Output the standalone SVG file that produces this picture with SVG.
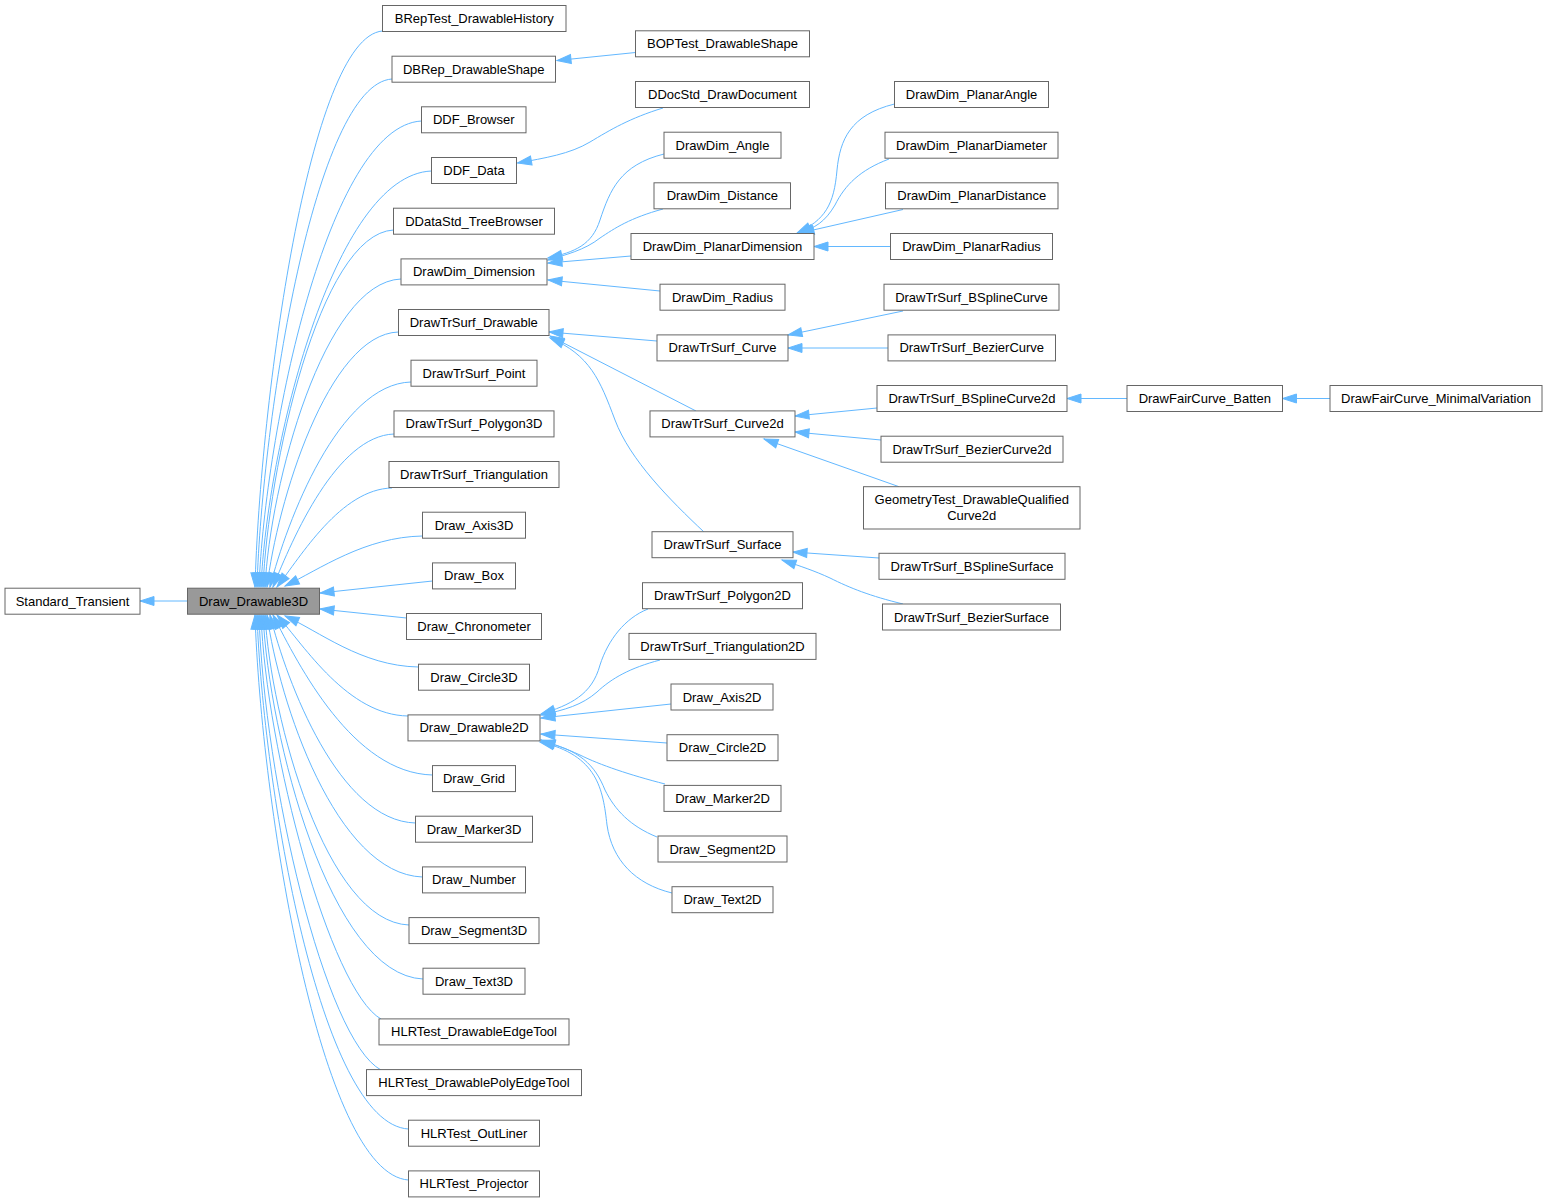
<svg xmlns="http://www.w3.org/2000/svg" width="1547" height="1203" viewBox="0 0 1547 1203">
<style>
.n rect{fill:#ffffff;stroke:#666666;stroke-width:1}
.n.hl rect{fill:#999999}
.n text{font-family:"Liberation Sans",Arial,sans-serif;font-size:13px;text-anchor:middle;fill:#000000}
#edges path{fill:none;stroke:#63b8ff;stroke-width:1;marker-end:url(#ah)}
</style>
<defs>
<marker id="ah" markerUnits="userSpaceOnUse" viewBox="0 0 14 10" refX="14" refY="5" markerWidth="14" markerHeight="10" orient="auto" overflow="visible">
<path d="M0,0.5 L14,5 L0,9.5 z" fill="#63b8ff" stroke="#63b8ff" stroke-width="1"/>
</marker>
</defs>
<rect x="0" y="0" width="1547" height="1203" fill="#ffffff"/>
<g id="edges">
<path d="M187.5,601 L140,601"/>
<path d="M382.5,31 C309,37 260,403 255,587"/>
<path d="M392,79 C315,84 262,419 257,587"/>
<path d="M421.5,121 C328,126 265,433 259,587"/>
<path d="M431.5,171 C333,175 267,449 261,587"/>
<path d="M393.5,230 C319,234 268,469 263,587"/>
<path d="M401,279 C324,282 270,485 265,587"/>
<path d="M398.5,332 C328,334 277,503 267,587"/>
<path d="M411,382 C339,384 287,520 270,587"/>
<path d="M394,434 C337,436 293,537 273,587"/>
<path d="M392,488 C341,489 301,556 277,587"/>
<path d="M422.5,536 C365,537 320,569 285,586"/>
<path d="M432.5,581 L320,593"/>
<path d="M406.5,618 L320,609"/>
<path d="M418.5,667 C361,666 319,631 285,616"/>
<path d="M408,716 C348,715 305,647 277,615"/>
<path d="M432.5,775 C353,773 299,666 273,615"/>
<path d="M415.5,823 C339,821 287,683 270,615"/>
<path d="M422.5,877 C336,874 279,702 267,615"/>
<path d="M409,925 C326,922 271,719 265,615"/>
<path d="M423,979 C330,975 269,737 263,615"/>
<path d="M381,1019 C330,990 266,750 261,615"/>
<path d="M381,1070 C325,1040 264,780 259,615"/>
<path d="M408.5,1129 C320,1124 263,786 257,615"/>
<path d="M408.5,1180 C320,1174 261,803 255,615"/>
<path d="M635.5,52.5 L557,60.5"/>
<path d="M663,108 C630,118 610,130 590,142 C570,154 545,158 517.5,163"/>
<path d="M664,154 C620,165 610,190 600,220 C592,245 575,252 548,258"/>
<path d="M663,209 C630,218 615,228 600,238 C585,250 565,255 548,260"/>
<path d="M631,256 L548,263"/>
<path d="M660,291 L548,280"/>
<path d="M657,341 L549,332"/>
<path d="M696,411 L550,336"/>
<path d="M704,532 C670,500 630,460 615,420 C600,380 590,355 550,338"/>
<path d="M894.5,104 C850,115 840,140 837,170 C834,205 825,220 797,233"/>
<path d="M889,159 C860,170 845,185 835,205 C825,222 815,228 799,233"/>
<path d="M903,209.5 L800,233"/>
<path d="M890.5,246.5 L814,246.5"/>
<path d="M903,311 L788,335"/>
<path d="M888,348 L788,348"/>
<path d="M877,408 L795,416"/>
<path d="M881,440 L795,432"/>
<path d="M899,486.7 L764,439"/>
<path d="M879,558 L793,552"/>
<path d="M903,604 C870,596 850,588 830,578 C815,571 800,566 782,560"/>
<path d="M1127,398.5 L1067,398.5"/>
<path d="M1330,398.5 L1282.5,398.5"/>
<path d="M648,609 C625,618 608,640 600,665 C592,695 570,705 541,714"/>
<path d="M660,660 C630,668 612,678 597,692 C582,705 565,710 541,715"/>
<path d="M671,704 L541,718"/>
<path d="M667,743 L541,734"/>
<path d="M665,784 C630,775 600,765 580,755 C565,748 555,745 541,740"/>
<path d="M657,837 C630,826 615,810 605,790 C595,765 580,750 541,741"/>
<path d="M672,893 C635,884 612,860 607,825 C603,790 598,755 540,742"/>
</g>
<g id="n_Standard_Transient" class="n"><rect x="5" y="588.2" width="135" height="26"/><text x="72.5" y="605.7">Standard_Transient</text></g>
<g id="n_Draw_Drawable3D" class="n hl"><rect x="187.5" y="588.2" width="132" height="26"/><text x="253.5" y="605.7">Draw_Drawable3D</text></g>
<g id="n_BRepTest_DrawableHistory" class="n"><rect x="382.5" y="5.5" width="183.5" height="26"/><text x="474.25" y="23">BRepTest_DrawableHistory</text></g>
<g id="n_DBRep_DrawableShape" class="n"><rect x="392" y="56.2" width="163.5" height="26"/><text x="473.75" y="73.7">DBRep_DrawableShape</text></g>
<g id="n_DDF_Browser" class="n"><rect x="421.5" y="106.8" width="104.5" height="26"/><text x="473.75" y="124.3">DDF_Browser</text></g>
<g id="n_DDF_Data" class="n"><rect x="431.5" y="157.5" width="85" height="26"/><text x="474" y="175">DDF_Data</text></g>
<g id="n_DDataStd_TreeBrowser" class="n"><rect x="393.5" y="208.2" width="161" height="26"/><text x="474" y="225.7">DDataStd_TreeBrowser</text></g>
<g id="n_DrawDim_Dimension" class="n"><rect x="401" y="258.9" width="146" height="26"/><text x="474" y="276.4">DrawDim_Dimension</text></g>
<g id="n_DrawTrSurf_Drawable" class="n"><rect x="398.5" y="309.5" width="150.5" height="26"/><text x="473.75" y="327">DrawTrSurf_Drawable</text></g>
<g id="n_DrawTrSurf_Point" class="n"><rect x="411" y="360.2" width="126" height="26"/><text x="474" y="377.7">DrawTrSurf_Point</text></g>
<g id="n_DrawTrSurf_Polygon3D" class="n"><rect x="394" y="410.9" width="160" height="26"/><text x="474" y="428.4">DrawTrSurf_Polygon3D</text></g>
<g id="n_DrawTrSurf_Triangulation" class="n"><rect x="389" y="461.5" width="170" height="26"/><text x="474" y="479">DrawTrSurf_Triangulation</text></g>
<g id="n_Draw_Axis3D" class="n"><rect x="422.5" y="512.2" width="103" height="26"/><text x="474" y="529.7">Draw_Axis3D</text></g>
<g id="n_Draw_Box" class="n"><rect x="432.5" y="562.9" width="83" height="26"/><text x="474" y="580.4">Draw_Box</text></g>
<g id="n_Draw_Chronometer" class="n"><rect x="406.5" y="613.5" width="135" height="26"/><text x="474" y="631">Draw_Chronometer</text></g>
<g id="n_Draw_Circle3D" class="n"><rect x="418.5" y="664.2" width="111" height="26"/><text x="474" y="681.7">Draw_Circle3D</text></g>
<g id="n_Draw_Drawable2D" class="n"><rect x="408" y="714.9" width="132" height="26"/><text x="474" y="732.4">Draw_Drawable2D</text></g>
<g id="n_Draw_Grid" class="n"><rect x="432.5" y="765.6" width="83" height="26"/><text x="474" y="783.1">Draw_Grid</text></g>
<g id="n_Draw_Marker3D" class="n"><rect x="415.5" y="816.2" width="117" height="26"/><text x="474" y="833.7">Draw_Marker3D</text></g>
<g id="n_Draw_Number" class="n"><rect x="422.5" y="866.9" width="103" height="26"/><text x="474" y="884.4">Draw_Number</text></g>
<g id="n_Draw_Segment3D" class="n"><rect x="409" y="917.6" width="130" height="26"/><text x="474" y="935.1">Draw_Segment3D</text></g>
<g id="n_Draw_Text3D" class="n"><rect x="423" y="968.2" width="102" height="26"/><text x="474" y="985.7">Draw_Text3D</text></g>
<g id="n_HLRTest_DrawableEdgeTool" class="n"><rect x="379" y="1018.9" width="190" height="26"/><text x="474" y="1036.4">HLRTest_DrawableEdgeTool</text></g>
<g id="n_HLRTest_DrawablePolyEdgeTool" class="n"><rect x="366.5" y="1069.6" width="215" height="26"/><text x="474" y="1087.1">HLRTest_DrawablePolyEdgeTool</text></g>
<g id="n_HLRTest_OutLiner" class="n"><rect x="408.5" y="1120.2" width="131" height="26"/><text x="474" y="1137.7">HLRTest_OutLiner</text></g>
<g id="n_HLRTest_Projector" class="n"><rect x="408.5" y="1170.9" width="131" height="26"/><text x="474" y="1188.4">HLRTest_Projector</text></g>
<g id="n_BOPTest_DrawableShape" class="n"><rect x="635.5" y="30.8" width="174" height="26"/><text x="722.5" y="48.3">BOPTest_DrawableShape</text></g>
<g id="n_DDocStd_DrawDocument" class="n"><rect x="635.5" y="81.5" width="174" height="26"/><text x="722.5" y="99">DDocStd_DrawDocument</text></g>
<g id="n_DrawDim_Angle" class="n"><rect x="664" y="132.2" width="117" height="26"/><text x="722.5" y="149.7">DrawDim_Angle</text></g>
<g id="n_DrawDim_Distance" class="n"><rect x="654" y="182.8" width="136.5" height="26"/><text x="722.25" y="200.3">DrawDim_Distance</text></g>
<g id="n_DrawDim_PlanarDimension" class="n"><rect x="631" y="233.5" width="183" height="26"/><text x="722.5" y="251">DrawDim_PlanarDimension</text></g>
<g id="n_DrawDim_Radius" class="n"><rect x="660" y="284.2" width="125" height="26"/><text x="722.5" y="301.7">DrawDim_Radius</text></g>
<g id="n_DrawTrSurf_Curve" class="n"><rect x="657" y="334.9" width="131" height="26"/><text x="722.5" y="352.4">DrawTrSurf_Curve</text></g>
<g id="n_DrawTrSurf_Curve2d" class="n"><rect x="650" y="410.9" width="145" height="26"/><text x="722.5" y="428.4">DrawTrSurf_Curve2d</text></g>
<g id="n_DrawTrSurf_Surface" class="n"><rect x="652" y="531.7" width="141" height="26"/><text x="722.5" y="549.2">DrawTrSurf_Surface</text></g>
<g id="n_DrawTrSurf_Polygon2D" class="n"><rect x="642.5" y="582.7" width="160" height="26"/><text x="722.5" y="600.2">DrawTrSurf_Polygon2D</text></g>
<g id="n_DrawTrSurf_Triangulation2D" class="n"><rect x="629" y="633.4" width="187" height="26"/><text x="722.5" y="650.9">DrawTrSurf_Triangulation2D</text></g>
<g id="n_Draw_Axis2D" class="n"><rect x="671" y="684" width="102" height="26"/><text x="722" y="701.5">Draw_Axis2D</text></g>
<g id="n_Draw_Circle2D" class="n"><rect x="667" y="734.7" width="111" height="26"/><text x="722.5" y="752.2">Draw_Circle2D</text></g>
<g id="n_Draw_Marker2D" class="n"><rect x="664" y="785.4" width="117" height="26"/><text x="722.5" y="802.9">Draw_Marker2D</text></g>
<g id="n_Draw_Segment2D" class="n"><rect x="658" y="836" width="129" height="26"/><text x="722.5" y="853.5">Draw_Segment2D</text></g>
<g id="n_Draw_Text2D" class="n"><rect x="672" y="886.7" width="101" height="26"/><text x="722.5" y="904.2">Draw_Text2D</text></g>
<g id="n_DrawDim_PlanarAngle" class="n"><rect x="894.5" y="81.5" width="154" height="26"/><text x="971.5" y="99">DrawDim_PlanarAngle</text></g>
<g id="n_DrawDim_PlanarDiameter" class="n"><rect x="885" y="132.2" width="173" height="26"/><text x="971.5" y="149.7">DrawDim_PlanarDiameter</text></g>
<g id="n_DrawDim_PlanarDistance" class="n"><rect x="885.5" y="182.8" width="172.5" height="26"/><text x="971.75" y="200.3">DrawDim_PlanarDistance</text></g>
<g id="n_DrawDim_PlanarRadius" class="n"><rect x="890.5" y="233.5" width="162" height="26"/><text x="971.5" y="251">DrawDim_PlanarRadius</text></g>
<g id="n_DrawTrSurf_BSplineCurve" class="n"><rect x="884" y="284.2" width="175" height="26"/><text x="971.5" y="301.7">DrawTrSurf_BSplineCurve</text></g>
<g id="n_DrawTrSurf_BezierCurve" class="n"><rect x="888" y="334.9" width="167.5" height="26"/><text x="971.75" y="352.4">DrawTrSurf_BezierCurve</text></g>
<g id="n_DrawTrSurf_BSplineCurve2d" class="n"><rect x="877" y="385.5" width="190" height="26"/><text x="972" y="403">DrawTrSurf_BSplineCurve2d</text></g>
<g id="n_DrawTrSurf_BezierCurve2d" class="n"><rect x="881" y="436.2" width="182" height="26"/><text x="972" y="453.7">DrawTrSurf_BezierCurve2d</text></g>
<g id="n_GeometryTest_DrawableQualifiedCurve2d" class="n"><rect x="863.5" y="486.7" width="216.5" height="42.3"/><text x="971.75" y="503.8">GeometryTest_DrawableQualified</text><text x="971.75" y="519.5">Curve2d</text></g>
<g id="n_DrawTrSurf_BSplineSurface" class="n"><rect x="879" y="553.3" width="186" height="26"/><text x="972" y="570.8">DrawTrSurf_BSplineSurface</text></g>
<g id="n_DrawTrSurf_BezierSurface" class="n"><rect x="882.5" y="604" width="178" height="26"/><text x="971.5" y="621.5">DrawTrSurf_BezierSurface</text></g>
<g id="n_DrawFairCurve_Batten" class="n"><rect x="1127" y="385.5" width="155.5" height="26"/><text x="1204.75" y="403">DrawFairCurve_Batten</text></g>
<g id="n_DrawFairCurve_MinimalVariation" class="n"><rect x="1330" y="385.5" width="212" height="26"/><text x="1436" y="403">DrawFairCurve_MinimalVariation</text></g>
</svg>
